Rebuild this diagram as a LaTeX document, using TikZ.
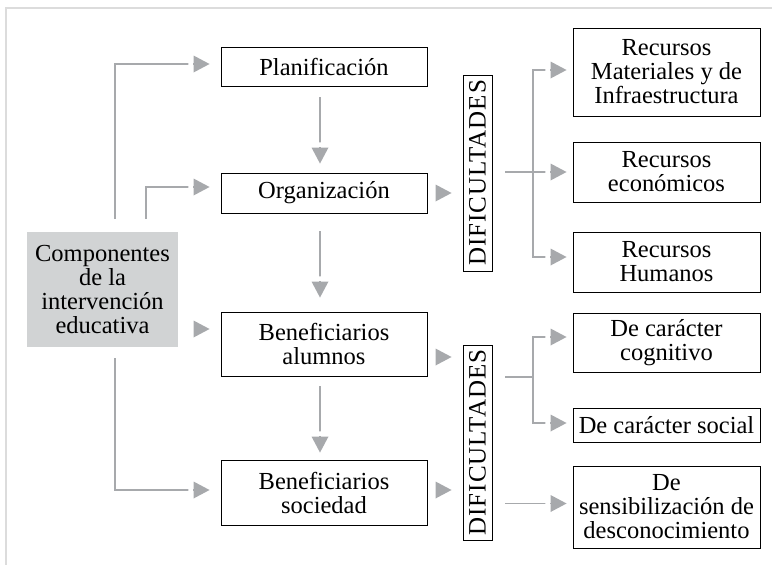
\documentclass[tikz,border=0pt]{standalone}
\usepackage{fontspec}
\setmainfont{Liberation Serif}
\newfontfamily\difont[LetterSpace=4]{Liberation Serif}
\usetikzlibrary{arrows.meta,calc}
\definecolor{lingray}{HTML}{A7A9AC}
\definecolor{boxgray}{HTML}{D1D3D4}
\definecolor{framegray}{HTML}{DCDCDC}

\begin{document}
\begin{tikzpicture}[x=1pt,y=-1pt,
  box/.style={draw,line width=0.9pt,align=center,inner sep=0pt,font=\fontsize{24.5}{24}\selectfont,minimum width=206pt},
  dbox/.style={draw,line width=0.9pt,inner sep=0pt,rotate=90,minimum width=196pt,minimum height=29pt,font=\difont\fontsize{25}{25}\selectfont},
  conn/.style={lingray,line width=1.5pt},
  tip/.style={conn,-{Rectangle[length=6pt,width=1.5pt,color=white,sep=0pt]Triangle[length=16pt,width=17pt,line width=0pt,sep=0pt]}},
  lonetip/.style={conn,-{Triangle[length=16pt,width=17pt,line width=0pt]}}]
\useasboundingbox (0,0) rectangle (772,565);
\draw[framegray,line width=1.5pt] (6,565) -- (6,8) -- (772,8);

% left column
\node[box,fill=boxgray,draw=none,minimum width=151pt,minimum height=115pt] (comp) at (102.5,289.5) {Componentes\\de la\\intervención\\educativa};
\node[box,minimum height=39pt] (plan) at (324,66.5) {Planificación};
\node[box,minimum height=40pt] (org) at (324,193) {Organización};
\node[box,minimum height=64pt] (benal) at (324,344) {Beneficiarios\\alumnos};
\node[box,minimum height=65pt] (benso) at (324,492.5) {Beneficiarios\\sociedad};

% dificultades
\node[dbox] (dif1) at (477.5,173) {DIFICULTADES};
\node[dbox,minimum width=195pt] (dif2) at (477.5,442.5) {DIFICULTADES};

% right column
\node[box,minimum width=187pt,minimum height=88pt] (rmat) at (666.5,72) {Recursos\\Materiales y de\\Infraestructura};
\node[box,minimum width=187pt,minimum height=60pt] (reco) at (666.5,172) {Recursos\\económicos};
\node[box,minimum width=187pt,minimum height=60pt] (rhum) at (666.5,262) {Recursos\\Humanos};
\node[box,minimum width=187pt,minimum height=59pt] (dcog) at (666.5,342.5) {De carácter\\cognitivo};
\node[box,minimum width=187pt,minimum height=34pt] (dsoc) at (666.5,425) {De carácter social};
\node[box,minimum width=187pt,minimum height=82pt] (dsen) at (666.5,507) {De\\sensibilización de\\desconocimiento};

\coordinate (s1) at (115,219);
\coordinate (s2) at (146,219);
\coordinate (s3) at (115,358);
\coordinate (b1) at (533,172);
\coordinate (b2) at (533,377);
\coordinate (ben) at ($(benal.west)+(0,-15)$);
\coordinate (sen) at ($(dsen.west)+(0,-3.5)$);

% from componentes
\draw[tip,shorten >=11pt] (s1) |- ([yshift=2.5pt]plan.west);
\draw[tip,shorten >=11pt] (s2) |- ([yshift=6pt]org.west);
\draw[lonetip,shorten <=16pt,shorten >=11pt] (comp.east |- ben) -- (ben);
\draw[tip,shorten >=11pt] (s3) |- ([yshift=2.5pt]benso.west);

% down the middle
\draw[tip,shorten <=11pt,shorten >=9pt] ([xshift=-4pt]plan.south) -- ([xshift=-4pt]org.north);
\draw[tip,shorten <=18pt,shorten >=14pt] ([xshift=-4pt]org.south) -- ([xshift=-4pt]benal.north);
\draw[tip,shorten <=10pt,shorten >=7pt] ([xshift=-4pt]benal.south) -- ([xshift=-4pt]benso.north);

% into dificultades
\draw[lonetip,shorten <=9pt,shorten >=11pt] (org.east) -- (org.east -| dif1.north);
\draw[lonetip,shorten <=9pt,shorten >=11pt] ([yshift=-13pt]benal.east) -- ([yshift=-13pt]benal.east -| dif2.north);
\draw[lonetip,shorten <=9pt,shorten >=11pt] ([yshift=2.5pt]benso.east) -- ([yshift=2.5pt]benso.east -| dif2.north);

% out of dificultades
\draw[conn,shorten <=13pt] (dif1.south |- b1) -- (b1);
\draw[tip,shorten >=6pt] (b1) |- ([yshift=2pt]rmat.west);
\draw[tip,shorten >=6pt] (b1) -- (reco.west);
\draw[tip,shorten >=6pt] (b1) |- ([yshift=5pt]rhum.west);
\draw[conn,shorten <=13pt] (dif2.south |- b2) -- (b2);
\draw[tip,shorten >=6pt] (b2) |- ([yshift=5.5pt]dcog.west);
\draw[tip,shorten >=6pt] (b2) |- ([yshift=2pt]dsoc.west);
\draw[tip,shorten <=13pt,shorten >=6pt] (dif2.south |- sen) -- (sen);
\end{tikzpicture}
\end{document}
